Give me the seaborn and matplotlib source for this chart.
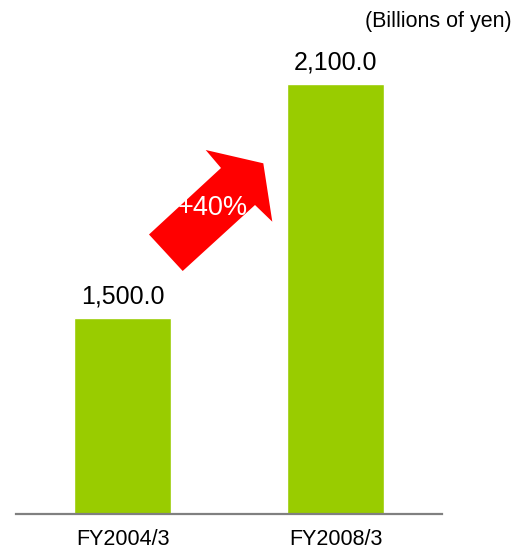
import matplotlib
matplotlib.use("Agg")
import matplotlib.pyplot as plt
import seaborn as sns
import pandas as pd
from matplotlib.patches import Polygon

# data
years = ["FY2004/3", "FY2008/3"]
values = [1500.0, 2100.0]
growth_label = "+40%"
unit_note = "(Billions of yen)"

df = pd.DataFrame({"year": years, "value": values})

sns.set_theme(style="white")
plt.rcParams["font.family"] = ["Liberation Sans", "DejaVu Sans"]

W, H = 520, 551
fig = plt.figure(figsize=(W / 100, H / 100), dpi=100)
ax = fig.add_axes([16 / W, 1 - 513.5 / H, 426 / W, 483.5 / H])

sns.barplot(data=df, x="year", y="value", color="#99CC00", width=0.455,
            saturation=1, ax=ax)
ax.set_xlim(-0.5, 1.5)
ax.set_ylim(1000, 1000 + 483.5 / 0.3904)

for i, v in enumerate(values):
    ax.annotate(f"{v:,.1f}", (i, v), xytext=(0, 7), textcoords="offset points",
                ha="center", va="bottom", fontsize=18, color="black")

for s in ["top", "left", "right"]:
    ax.spines[s].set_visible(False)
ax.spines["bottom"].set_color("#808080")
ax.spines["bottom"].set_linewidth(1.6)
ax.set_yticks([])
ax.set_xlabel("")
ax.set_ylabel("")
ax.tick_params(axis="x", length=0, pad=11, labelsize=15.5, labelcolor="black")

# growth arrow (figure pixel space, origin top-left)
arrow_px = [(149, 234.5), (221, 168), (205.7, 150), (263.3, 163.3),
            (272.3, 221.7), (255, 205), (182.7, 271)]
arrow = Polygon([(x / W, 1 - y / H) for x, y in arrow_px], closed=True,
                facecolor="#FF0000", edgecolor="none", transform=fig.transFigure)
fig.patches.append(arrow)
fig.text(213 / W, 1 - 208 / H, growth_label, ha="center", va="center",
         fontsize=19.5, color="white")

fig.text(512 / W, 1 - 27 / H, unit_note, ha="right", va="baseline",
         fontsize=15.5, color="black")

fig.savefig("out.png", dpi=100, facecolor="white")
